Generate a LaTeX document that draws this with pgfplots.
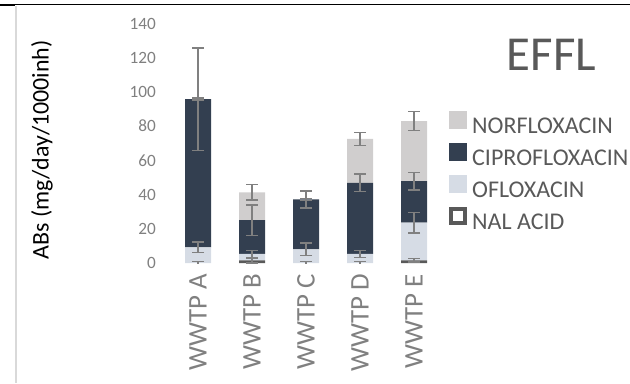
\documentclass[border=0pt]{standalone}
\usepackage{fontspec}
\setmainfont{Carlito}
\usepackage{pgfplots}
\pgfplotsset{compat=1.18}

\definecolor{nalcol}{HTML}{595959}
\definecolor{oflcol}{HTML}{D6DCE5}
\definecolor{cipcol}{HTML}{333F50}
\definecolor{norcol}{HTML}{D0CECE}
\definecolor{errcol}{HTML}{808080}
\definecolor{tickcol}{HTML}{808080}
\definecolor{txtcol}{HTML}{595959}
\definecolor{framecol}{HTML}{D9D9D9}

\pgfplotsset{
  sqlegend/.style={legend image code/.code={
      \fill[##1] (0,-0.5bp) rectangle (18bp,17.5bp);
      \path (23bp,0);}},
  plotarea/.style={at={(171bp,120bp)}, anchor=south west,
      scale only axis, width=270bp, height=239.5bp,
      xmin=-0.5, xmax=4.5, ymin=0, ymax=140},
  % error bars drawn at the top of each stacked segment
  errplot/.style={draw=none, mark=none,
      error bars/.cd, y dir=both, y explicit,
      error mark=-,
      error bar style={line width=1.5bp, draw=errcol, solid},
      error mark options={rotate=90, line width=1.5bp, draw=errcol, solid, mark size=6bp}},
}

\begin{document}
\begin{tikzpicture}[x=1bp,y=1bp]
\useasboundingbox (0,0) rectangle (630,383);
% frame lines around the chart area
\draw[line width=1bp, black] (0,378) -- (630,378);
\draw[line width=2bp, black] (0,378) -- (15,378);
\draw[line width=2bp, framecol] (15.8,377) -- (15.8,0);

\begin{axis}[
  plotarea,
  ybar stacked, bar width=26bp,
  xtick={0,1,2,3,4},
  xticklabels={WWTP A,WWTP B,WWTP C,WWTP D,WWTP E},
  ytick={0,20,...,140},
  axis x line*=bottom, axis y line*=left,
  x axis line style={draw=none}, y axis line style={draw=none},
  major tick length=0pt, tick style={draw=none},
  /pgf/number format/assume math mode=true,
  yticklabel style={font=\fontsize{17.3}{20}\selectfont, text=tickcol,
                    inner sep=0pt, xshift=-15bp},
  xticklabel style={font=\fontsize{27}{32}\selectfont, text=tickcol,
                    inner sep=0pt, yshift=-11bp, rotate=90, anchor=east},
  ylabel={ABs (mg/day/1000inh)},
  every axis y label/.style={at={(axis description cs:-0.478,0.472)},
                    anchor=center, rotate=90,
                    font=\fontsize{24}{28}\selectfont, text=black},
  title={EFFL},
  title style={at={(axis description cs:1.409,0.843)}, anchor=center,
               font=\fontsize{49}{56}\selectfont, text=txtcol},
  reverse legend,
  legend cell align=left,
  legend style={at={(axis description cs:1.0296,0.637)}, anchor=north west,
                draw=none, fill=none, inner sep=0pt, row sep=3bp,
                font=\fontsize{24.1}{30}\selectfont, text=txtcol,
                nodes={inner sep=0pt, text height=17bp, text depth=6bp}},
]
% NAL ACID
\addplot+[fill=nalcol, draw=none, sqlegend,
  legend image code/.code={
    \draw[draw=nalcol, fill=white, line width=4bp] (2bp,1.5bp) rectangle (16bp,15.5bp);
    \path (23bp,0);}] coordinates {
  (0,0) (1,1.5) (2,0) (3,0) (4,1.5)
};
% OFLOXACIN
\addplot+[fill=oflcol, draw=none, sqlegend] coordinates {
  (0,9.2) (1,3.8) (2,8.0) (3,5.3) (4,22.1)
};
% CIPROFLOXACIN
\addplot+[fill=cipcol, draw=none, sqlegend] coordinates {
  (0,86.6) (1,19.8) (2,29.2) (3,41.6) (4,24.3)
};
% NORFLOXACIN
\addplot+[fill=norcol, draw=none, sqlegend] coordinates {
  (0,0) (1,16.2) (2,0) (3,25.6) (4,35.1)
};
\legend{NAL ACID,OFLOXACIN,CIPROFLOXACIN,NORFLOXACIN}
\end{axis}

\begin{axis}[plotarea, hide axis]
% NAL ACID: segment tops and standard deviations
\addplot[errplot] coordinates {
  (0,0) +- (0,1)   (1,1.5) +- (0,1.5)   (2,0) +- (0,1)
  (3,0) +- (0,1)   (4,1.5) +- (0,1)
};
% OFLOXACIN (cumulative tops)
\addplot[errplot] coordinates {
  (0,9.2) +- (0,3.2)   (1,5.3) +- (0,2)   (2,8.0) +- (0,3.7)
  (3,5.3) +- (0,2)     (4,23.6) +- (0,6)
};
% CIPROFLOXACIN (cumulative tops)
\addplot[errplot] coordinates {
  (0,95.8) +- (0,30)   (1,25.1) +- (0,8.9)   (2,37.2) +- (0,5)
  (3,46.9) +- (0,5)    (4,47.9) +- (0,5.1)
};
% NORFLOXACIN (cumulative tops)
\addplot[errplot] coordinates {
  (0,95.8) +- (0,0.6)  (1,41.3) +- (0,4.5)   (2,37.2) +- (0,0.6)
  (3,72.5) +- (0,3.8)  (4,83.0) +- (0,5.5)
};
\end{axis}
\end{tikzpicture}
\end{document}
